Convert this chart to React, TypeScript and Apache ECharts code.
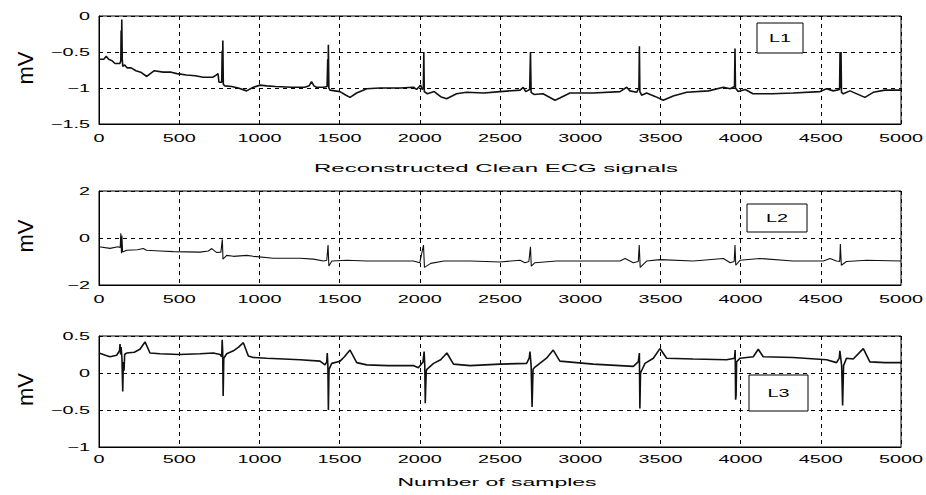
import React, { useEffect, useRef } from "react";
import * as echarts from "echarts";

const X_TICKS = [0, 500, 1000, 1500, 2000, 2500, 3000, 3500, 4000, 4500, 5000];
const Y1_TICKS = [0, -0.5, -1, -1.5];
const Y2_TICKS = [2, 0, -2];
const Y3_TICKS = [0.5, 0, -0.5, -1];

const LEAD_NAMES = ["L1", "L2", "L3"];
const Y_LABEL = "mV";
const TITLE_1 = "Reconstructed Clean ECG signals";
const TITLE_3 = "Number of samples";

const L1: number[][] = [
  [0, -0.6], [30, -0.6], [45, -0.56], [60, -0.6], [80, -0.62], [100, -0.66], [130, -0.66], [136, -0.62],
  [138, -0.2], [140, -0.62], [142, -0.05], [145, -0.6], [148, -0.7], [160, -0.68], [175, -0.72], [200, -0.72],
  [230, -0.76], [260, -0.78], [298, -0.84], [320, -0.8], [345, -0.76], [400, -0.78], [450, -0.78], [486, -0.8],
  [545, -0.82], [600, -0.83], [650, -0.85], [711, -0.85], [730, -0.82], [742, -0.8], [748, -0.92], [765, -0.92],
  [768, -0.48], [770, -0.92], [772, -0.34], [775, -0.95], [785, -0.97], [827, -0.98], [868, -1.0], [920, -1.04],
  [962, -0.99], [1004, -0.96], [1045, -0.97], [1100, -0.98], [1200, -0.99], [1283, -0.99], [1310, -0.97],
  [1325, -0.91], [1340, -0.97], [1356, -0.99], [1400, -0.99], [1422, -0.98], [1426, -0.6], [1428, -0.98],
  [1430, -0.4], [1433, -1.0], [1440, -1.03], [1502, -1.05], [1540, -1.1], [1565, -1.13], [1606, -1.07],
  [1669, -1.01], [1750, -1.0], [1877, -1.0], [1960, -0.99], [1980, -1.02], [2005, -0.96], [2015, -1.02],
  [2022, -1.0], [2025, -0.5], [2028, -1.05], [2047, -1.08], [2090, -1.05], [2130, -1.12], [2167, -1.15],
  [2229, -1.08], [2291, -1.06], [2400, -1.07], [2500, -1.05], [2625, -1.03], [2645, -0.99], [2660, -1.05],
  [2685, -1.02], [2690, -0.5], [2694, -1.06], [2712, -1.09], [2768, -1.08], [2843, -1.17], [2873, -1.14],
  [2936, -1.07], [3081, -1.07], [3248, -1.05], [3290, -0.99], [3310, -1.04], [3352, -1.06], [3366, -1.0],
  [3369, -0.42], [3372, -1.05], [3383, -1.1], [3414, -1.07], [3470, -1.12], [3518, -1.17], [3580, -1.11],
  [3664, -1.06], [3800, -1.04], [3893, -0.99], [3935, -1.01], [3962, -0.98], [3965, -0.45], [3968, -1.0],
  [3985, -1.05], [4029, -1.02], [4077, -1.08], [4200, -1.08], [4327, -1.07], [4495, -1.05], [4536, -1.01],
  [4578, -1.04], [4617, -1.02], [4620, -0.5], [4623, -1.0], [4626, -0.5], [4629, -1.06], [4640, -1.08],
  [4682, -1.04], [4775, -1.13], [4827, -1.06], [4900, -1.03], [5000, -1.03],
];

const L2: number[][] = [
  [0, -0.37], [69, -0.44], [118, -0.37], [132, -0.4], [136, 0.2], [140, -0.65], [143, 0.1], [147, -0.6],
  [172, -0.52], [240, -0.5], [276, -0.45], [297, -0.52], [380, -0.55], [464, -0.58], [630, -0.6], [682, -0.55],
  [703, -0.45], [734, -0.62], [760, -0.6], [769, -0.06], [773, -0.9], [796, -0.74], [838, -0.78], [921, -0.74],
  [962, -0.78], [1087, -0.86], [1253, -0.86], [1337, -0.9], [1400, -0.98], [1420, -0.95], [1428, -0.3],
  [1433, -1.19], [1452, -0.98], [1545, -0.95], [1669, -0.98], [1800, -0.98], [1960, -0.98], [2000, -1.05],
  [2023, -0.3], [2029, -1.25], [2068, -1.08], [2150, -0.98], [2320, -0.98], [2500, -1.02], [2625, -0.95],
  [2656, -1.05], [2680, -1.0], [2690, -0.37], [2695, -1.2], [2718, -1.05], [2852, -0.98], [3248, -0.98],
  [3280, -0.87], [3331, -1.05], [3362, -1.0], [3368, -0.3], [3374, -1.25], [3414, -0.98], [3497, -0.92],
  [3705, -0.98], [3893, -0.87], [3935, -1.05], [3960, -1.0], [3965, -0.3], [3970, -1.16], [3996, -0.95],
  [4120, -0.87], [4327, -0.98], [4516, -0.98], [4557, -0.87], [4598, -0.98], [4618, -1.0], [4622, -0.26],
  [4628, -1.16], [4660, -1.0], [4785, -0.95], [5000, -0.98],
];

const L3: number[][] = [
  [0, 0.27], [40, 0.24], [69, 0.22], [110, 0.24], [128, 0.3], [131, 0.39], [135, 0.25], [138, 0.35], [143, 0.2],
  [148, -0.25], [152, 0.15], [156, 0.03], [160, 0.25], [172, 0.27], [220, 0.28], [255, 0.32], [287, 0.42],
  [318, 0.27], [380, 0.26], [500, 0.25], [630, 0.26], [713, 0.27], [755, 0.25], [765, 0.22], [768, 0.45],
  [771, 0.3], [774, -0.31], [778, 0.2], [796, 0.26], [838, 0.3], [870, 0.35], [900, 0.41], [931, 0.23],
  [962, 0.21], [1045, 0.2], [1150, 0.19], [1253, 0.18], [1378, 0.16], [1409, 0.11], [1420, 0.15], [1423, 0.27],
  [1427, 0.1], [1430, -0.5], [1434, 0.05], [1451, 0.13], [1503, 0.16], [1530, 0.22], [1565, 0.31], [1607, 0.14],
  [1669, 0.11], [1800, 0.1], [1960, 0.1], [1991, 0.07], [2020, 0.15], [2027, 0.29], [2031, 0.1], [2034, -0.41],
  [2040, 0.02], [2044, 0.05], [2086, 0.13], [2130, 0.18], [2169, 0.27], [2210, 0.12], [2314, 0.1], [2500, 0.12],
  [2666, 0.13], [2682, 0.2], [2687, 0.29], [2694, 0.1], [2700, -0.46], [2706, 0.05], [2718, 0.08], [2790, 0.2],
  [2832, 0.31], [2873, 0.16], [3081, 0.12], [3331, 0.09], [3362, 0.15], [3369, 0.27], [3372, -0.48], [3376, 0.0],
  [3404, 0.13], [3456, 0.2], [3497, 0.33], [3539, 0.2], [3705, 0.19], [3913, 0.18], [3962, 0.2], [3966, 0.31],
  [3969, -0.36], [3972, -0.3], [3975, 0.15], [3996, 0.2], [4079, 0.22], [4110, 0.32], [4141, 0.22], [4327, 0.21],
  [4536, 0.18], [4598, 0.14], [4615, 0.2], [4619, 0.3], [4630, 0.1], [4636, -0.44], [4642, 0.1], [4660, 0.2],
  [4702, 0.19], [4765, 0.33], [4806, 0.15], [4900, 0.14], [5000, 0.14],
];

const FONT = '"Liberation Sans", Arial, sans-serif';

const fmt = (v: number) => (v < 0 ? "\u2212" + Math.abs(v) : String(v));

export default function App() {
  const ref = useRef<HTMLDivElement>(null);
  useEffect(() => {
    if (!ref.current) return;
    const chart = echarts.init(ref.current, undefined, { renderer: "svg" });
    const grids = [
      { left: 99, top: 16, width: 802, height: 108 },
      { left: 99, top: 191, width: 802, height: 94 },
      { left: 99, top: 336, width: 802, height: 111 },
    ];
    const yDefs = [
      { min: -1.5, max: 0, interval: 0.5, ticks: Y1_TICKS },
      { min: -2, max: 2, interval: 2, ticks: Y2_TICKS },
      { min: -1, max: 0.5, interval: 0.5, ticks: Y3_TICKS },
    ];
    const datasets = [L1, L2, L3];
    const dashed = { color: "#000", width: 1, type: [4, 4] as any };
    chart.setOption({
      animation: false,
      backgroundColor: "#fff",
      grid: grids.map((g) => ({ ...g, show: true, borderColor: "#000", borderWidth: 1, backgroundColor: "#fff" })),
      xAxis: grids.map((_, i) => ({
        type: "value",
        gridIndex: i,
        min: 0,
        max: 5000,
        interval: 500,
        axisLine: { show: true, onZero: false, lineStyle: { color: "#000", width: 1 } },
        axisTick: { show: false },
        axisLabel: { show: false },
        splitLine: { show: true, lineStyle: dashed },
      })),
      yAxis: yDefs.map((d, i) => ({
        type: "value",
        gridIndex: i,
        min: d.min,
        max: d.max,
        interval: d.interval,
        axisLine: { show: true, onZero: false, lineStyle: { color: "#000", width: 1 } },
        axisTick: { show: false },
        axisLabel: { show: false },
        splitLine: { show: true, lineStyle: dashed },
      })),
      series: datasets.map((d, i) => ({
        type: "line",
        name: LEAD_NAMES[i],
        xAxisIndex: i,
        yAxisIndex: i,
        data: d,
        showSymbol: false,
        symbol: "none",
        z: 5,
        lineStyle: { color: "#111", width: i === 1 ? 1.1 : 1.6 },
      })),
    });

    const graphics: any[] = [];
    const tickText = (text: string, x: number, y: number, align: string) => ({
      type: "text",
      x,
      y,
      scaleX: 1.8,
      z: 10,
      style: { text, font: `11px ${FONT}`, fill: "#000", align, verticalAlign: "middle" },
    });
    grids.forEach((g, i) => {
      const d = yDefs[i];
      X_TICKS.forEach((v) => {
        const p = chart.convertToPixel({ gridIndex: i } as any, [v, d.min]) as number[];
        graphics.push(tickText(String(v), p[0], p[1] + (i === 2 ? 12 : 14), "center"));
      });
      d.ticks.forEach((v) => {
        const p = chart.convertToPixel({ gridIndex: i } as any, [0, v]) as number[];
        graphics.push(tickText(fmt(v), p[0] - 9, p[1], "right"));
      });
      graphics.push({
        type: "text",
        x: 25,
        y: g.top + g.height / 2 - 2,
        rotation: Math.PI / 2,
        z: 10,
        style: { text: Y_LABEL, font: `22px ${FONT}`, fill: "#000", align: "center", verticalAlign: "middle" },
      });
    });
    const boxes = [
      { x: 757, y: 23, w: 46, h: 30 },
      { x: 747, y: 204, w: 60, h: 28 },
      { x: 749, y: 375, w: 59, h: 36 },
    ];
    boxes.forEach((b, i) => {
      graphics.push({
        type: "rect",
        z: 20,
        shape: { x: b.x, y: b.y, width: b.w, height: b.h },
        style: { fill: "#fff", stroke: "#000", lineWidth: 1 },
      });
      graphics.push({
        type: "text",
        z: 21,
        x: b.x + b.w / 2,
        y: b.y + b.h / 2,
        scaleX: 1.8,
        style: { text: LEAD_NAMES[i], font: `11px ${FONT}`, fill: "#000", align: "center", verticalAlign: "middle" },
      });
    });
    graphics.push({
      type: "text",
      x: 496,
      y: 168,
      scaleX: 2.4,
      z: 10,
      style: { text: TITLE_1, font: `10px ${FONT}`, fill: "#000", align: "center", verticalAlign: "middle" },
    });
    graphics.push({
      type: "text",
      x: 497,
      y: 483,
      scaleX: 2.3,
      z: 10,
      style: { text: TITLE_3, font: `10px ${FONT}`, fill: "#000", align: "center", verticalAlign: "middle" },
    });
    chart.setOption({ graphic: graphics });
    return () => chart.dispose();
  }, []);
  return (
    <div
      ref={ref}
      style={{ position: "absolute", left: 0, top: 0, width: 926, height: 495, background: "#fff" }}
    />
  );
}
